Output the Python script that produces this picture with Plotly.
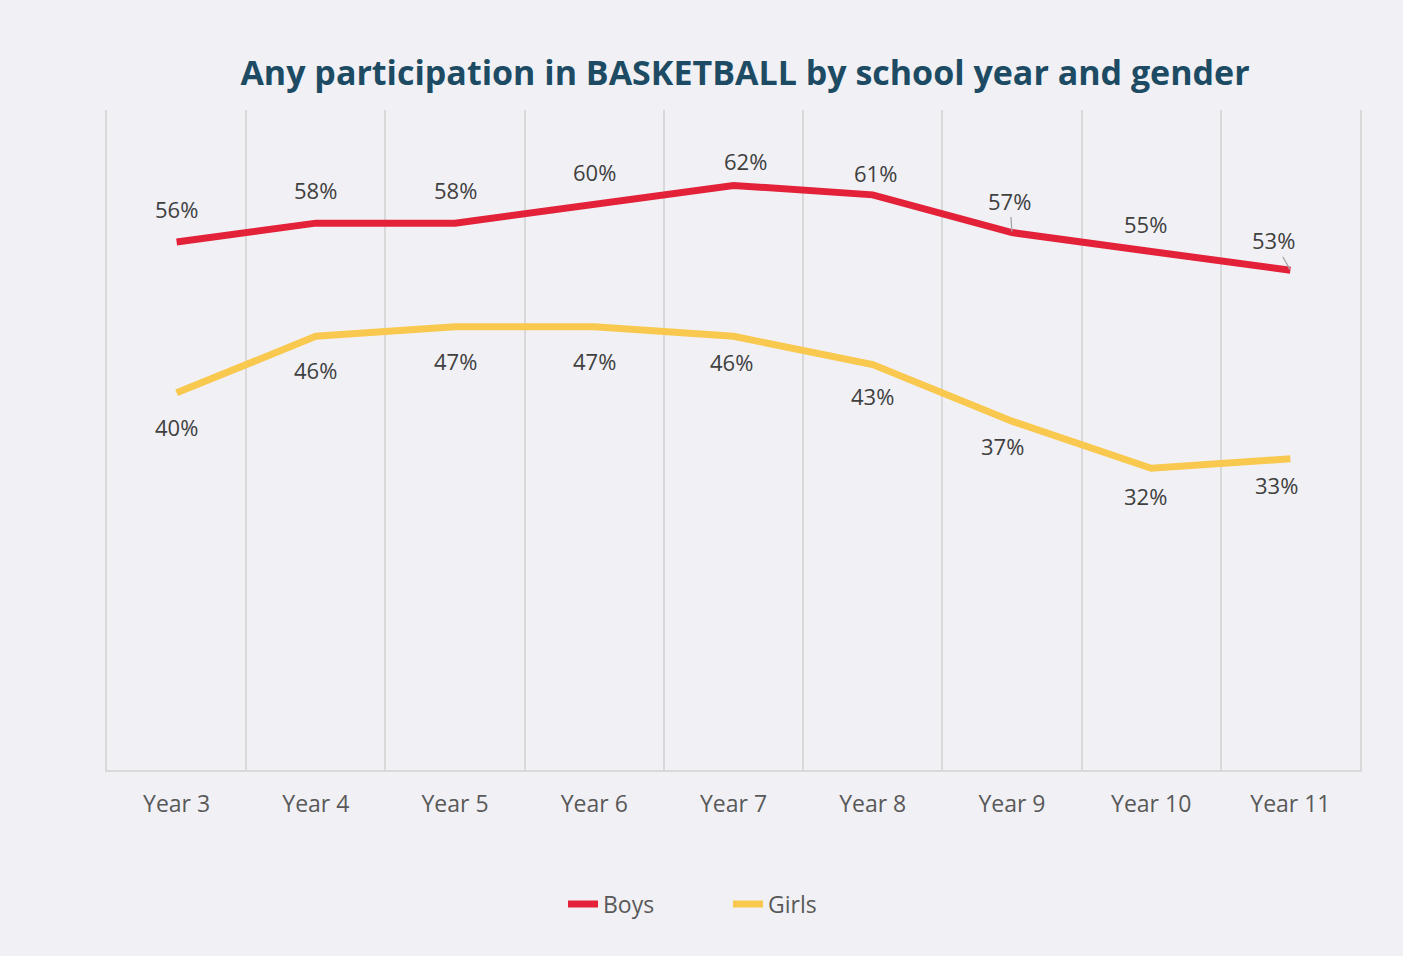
import plotly.graph_objects as go

years = ["Year 3", "Year 4", "Year 5", "Year 6", "Year 7", "Year 8", "Year 9", "Year 10", "Year 11"]
boys = [56, 58, 58, 60, 62, 61, 57, 55, 53]
girls = [40, 46, 47, 47, 46, 43, 37, 32, 33]

# label offsets in pixels (dx, dy; dy positive = down)
boys_off = [(0, -33), (0, -33), (0, -33), (0, -32), (12, -24), (3, -22), (-2, -32), (-6, -27), (-17, -30)]
girls_off = [(0, 34), (0, 34), (0, 34), (0, 34), (-2, 26), (0, 31), (-9, 25), (-6, 28), (-14, 26)]
boys_leader = [False, False, False, False, False, False, True, False, True]

RED = "#e3223a"
YELLOW = "#f9c84e"
FONT = "Open Sans"
TXT = "#404040"
GRID = "#d9d9d9"

fig = go.Figure()
fig.add_trace(go.Scatter(x=years, y=boys, mode="lines", name="Boys",
                         line=dict(color=RED, width=7)))
fig.add_trace(go.Scatter(x=years, y=girls, mode="lines", name="Girls",
                         line=dict(color=YELLOW, width=7)))

annotations = []
for i, (yr, v) in enumerate(zip(years, boys)):
    dx, dy = boys_off[i]
    if boys_leader[i]:
        annotations.append(dict(x=yr, y=v, text=f"{v}%", showarrow=True, ax=dx, ay=dy,
                                arrowhead=0, arrowwidth=1.3, arrowcolor="#a6a6a6", standoff=1,
                                font=dict(family=FONT, size=22, color=TXT)))
    else:
        annotations.append(dict(x=yr, y=v, text=f"{v}%", showarrow=False, xshift=dx, yshift=-dy,
                                font=dict(family=FONT, size=22, color=TXT)))
for i, (yr, v) in enumerate(zip(years, girls)):
    dx, dy = girls_off[i]
    annotations.append(dict(x=yr, y=v, text=f"{v}%", showarrow=False, xshift=dx, yshift=-dy,
                            font=dict(family=FONT, size=22, color=TXT)))

fig.update_layout(
    width=1403, height=956,
    paper_bgcolor="#f1f1f5", plot_bgcolor="#f1f1f5",
    margin=dict(l=107, r=43, t=110, b=186),
    title=dict(text="<b>Any participation in BASKETBALL by school year and gender</b>",
               x=745/1403, xanchor="center", xref="container",
               y=1 - 73/956, yanchor="middle", yref="container",
               font=dict(family=FONT, size=34, color="#1d4b63")),
    xaxis=dict(type="category", range=[-0.5, 8.5], tickson="boundaries",
               showgrid=True, gridcolor=GRID, gridwidth=1.5,
               showline=True, linecolor=GRID, linewidth=2,
               ticks="", ticklabelstandoff=12,
               tickfont=dict(family=FONT, size=23, color="#595959"), fixedrange=True),
    yaxis=dict(range=[0, 70], showticklabels=False, ticks="", showgrid=False, zeroline=False,
               showline=True, linecolor=GRID, linewidth=1.5, mirror=True, fixedrange=True),
    showlegend=True,
    legend=dict(orientation="h", xanchor="left", x=(563-107)/1253, yanchor="middle",
                y=(770-904)/660, font=dict(family=FONT, size=23, color="#595959"),
                bgcolor="rgba(0,0,0,0)", entrywidth=120, entrywidthmode="pixels"),
    annotations=annotations,
)

fig.write_html("out.html", config={"displayModeBar": False},
               post_script="document.body.style.margin='0';document.body.style.overflow='hidden';")
